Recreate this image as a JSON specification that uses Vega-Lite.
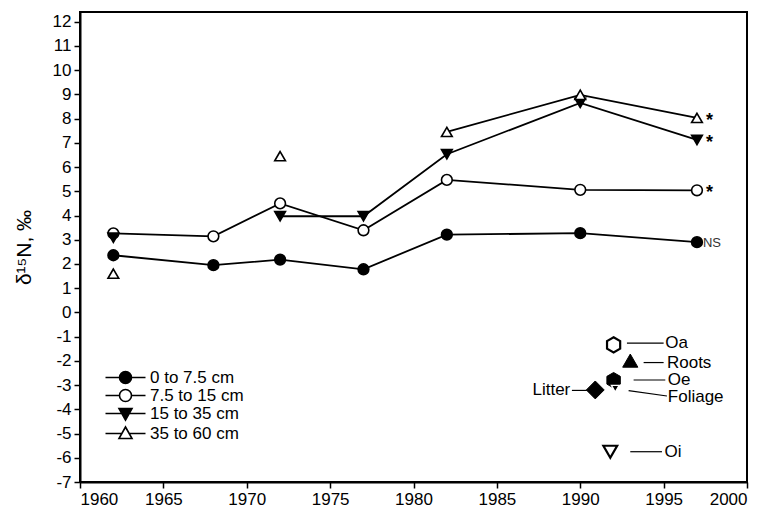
{
  "$schema": "https://vega.github.io/schema/vega-lite/v6.json",
  "width": 667,
  "height": 470,
  "autosize": {"type": "none"},
  "padding": {"left": 80, "top": 12, "right": 21, "bottom": 29},
  "background": "white",
  "config": {
    "font": "Liberation Sans",
    "view": {"stroke": "black", "strokeWidth": 2},
    "axis": {"grid": false, "domainColor": "black", "domainWidth": 2, "tickColor": "black", "tickWidth": 1.5, "tickSize": 6, "labelFontSize": 17, "labelColor": "black", "labelFont": "Liberation Sans"}
  },
  "resolve": {"scale": {"shape": "independent", "fill": "independent"}},
  "datasets": {
    "depth": [
      {"series": "0 to 7.5 cm", "year": 1962, "d15N": 2.36},
      {"series": "0 to 7.5 cm", "year": 1968, "d15N": 1.95},
      {"series": "0 to 7.5 cm", "year": 1972, "d15N": 2.18},
      {"series": "0 to 7.5 cm", "year": 1977, "d15N": 1.78},
      {"series": "0 to 7.5 cm", "year": 1982, "d15N": 3.21},
      {"series": "0 to 7.5 cm", "year": 1990, "d15N": 3.27},
      {"series": "0 to 7.5 cm", "year": 1997, "d15N": 2.9},
      {"series": "7.5 to 15 cm", "year": 1962, "d15N": 3.26},
      {"series": "7.5 to 15 cm", "year": 1968, "d15N": 3.14},
      {"series": "7.5 to 15 cm", "year": 1972, "d15N": 4.5},
      {"series": "7.5 to 15 cm", "year": 1977, "d15N": 3.39},
      {"series": "7.5 to 15 cm", "year": 1982, "d15N": 5.47},
      {"series": "7.5 to 15 cm", "year": 1990, "d15N": 5.06},
      {"series": "7.5 to 15 cm", "year": 1997, "d15N": 5.04},
      {"series": "15 to 35 cm", "year": 1962, "d15N": 3.08},
      {"series": "15 to 35 cm", "year": 1972, "d15N": 3.97},
      {"series": "15 to 35 cm", "year": 1977, "d15N": 3.97},
      {"series": "15 to 35 cm", "year": 1982, "d15N": 6.53},
      {"series": "15 to 35 cm", "year": 1990, "d15N": 8.65},
      {"series": "15 to 35 cm", "year": 1997, "d15N": 7.12},
      {"series": "35 to 60 cm", "year": 1962, "d15N": 1.6},
      {"series": "35 to 60 cm", "year": 1972, "d15N": 6.45},
      {"series": "35 to 60 cm", "year": 1982, "d15N": 7.45},
      {"series": "35 to 60 cm", "year": 1990, "d15N": 8.98},
      {"series": "35 to 60 cm", "year": 1997, "d15N": 8.03}
    ],
    "sig": [
      {"year": 1997, "d15N": 8.03, "label": "*"},
      {"year": 1997, "d15N": 7.12, "label": "*"},
      {"year": 1997, "d15N": 5.04, "label": "*"}
    ],
    "ns": [
      {"year": 1997, "d15N": 2.85, "label": "NS"}
    ],
    "samples": [
      {"sample": "Oa", "year": 1992.0, "d15N": -1.34, "lx1": 1992.8, "lx2": 1995.0, "ly1": -1.27, "ly2": -1.27, "tx": 1995.1, "ty": -1.27},
      {"sample": "Roots", "year": 1993.0, "d15N": -1.99, "lx1": 1993.8, "lx2": 1995.0, "ly1": -2.07, "ly2": -2.07, "tx": 1995.2, "ty": -2.07},
      {"sample": "Oe", "year": 1992.0, "d15N": -2.8, "lx1": 1993.2, "lx2": 1995.1, "ly1": -2.79, "ly2": -2.79, "tx": 1995.25, "ty": -2.79},
      {"sample": "Foliage", "year": 1992.1, "d15N": -3.15, "lx1": 1992.9, "lx2": 1995.2, "ly1": -3.23, "ly2": -3.45, "tx": 1995.25, "ty": -3.5},
      {"sample": "Litter", "year": 1990.9, "d15N": -3.2, "lx1": 1989.5, "lx2": 1990.4, "ly1": -3.22, "ly2": -3.22, "tx": 1989.4, "ty": -3.22},
      {"sample": "Oi", "year": 1991.8, "d15N": -5.75, "lx1": 1993.0, "lx2": 1994.9, "ly1": -5.75, "ly2": -5.75, "tx": 1995.05, "ty": -5.75}
    ]
  },
  "encoding": {
    "x": {"field": "year", "type": "quantitative", "scale": {"domain": [1960, 2000], "nice": false, "zero": false},
      "axis": {"title": null, "values": [1960, 1965, 1970, 1975, 1980, 1985, 1990, 1995, 2000], "format": "d", "labelPadding": 3}},
    "y": {"field": "d15N", "type": "quantitative", "scale": {"domain": [-7, 12.4], "nice": false, "zero": false},
      "axis": {"title": "δ¹⁵N, ‰", "titleFontSize": 21, "titleFontWeight": "normal", "titleColor": "black", "titlePadding": 18,
        "values": [-7, -6, -5, -4, -3, -2, -1, 0, 1, 2, 3, 4, 5, 6, 7, 8, 9, 10, 11, 12], "labelExpr": "'' + datum.value", "labelPadding": 3}}
  },
  "layer": [
    {
      "data": {"name": "depth"},
      "transform": [{"filter": "!((datum.series === '15 to 35 cm' && datum.year === 1962) || (datum.series === '35 to 60 cm' && datum.year < 1980))"}],
      "mark": {"type": "line", "color": "black", "strokeWidth": 1.8},
      "encoding": {"detail": {"field": "series"}}
    },
    {
      "data": {"name": "samples"},
      "mark": {"type": "rule", "color": "black", "strokeWidth": 1.2},
      "encoding": {
        "x": {"field": "lx1", "type": "quantitative"},
        "x2": {"field": "lx2"},
        "y": {"field": "ly1", "type": "quantitative"},
        "y2": {"field": "ly2"}
      }
    },
    {
      "data": {"name": "depth"},
      "mark": {"type": "point", "stroke": "black", "strokeWidth": 1.6, "size": 115, "opacity": 1},
      "encoding": {
        "shape": {"field": "series", "type": "nominal", "legend": null,
          "scale": {"domain": ["0 to 7.5 cm", "7.5 to 15 cm", "15 to 35 cm", "35 to 60 cm"], "range": ["circle", "circle", "triangle-down", "triangle-up"]}},
        "fill": {"field": "series", "type": "nominal", "legend": null,
          "scale": {"domain": ["0 to 7.5 cm", "7.5 to 15 cm", "15 to 35 cm", "35 to 60 cm"], "range": ["black", "white", "black", "white"]}}
      }
    },
    {
      "data": {"name": "depth"},
      "transform": [{"filter": "false"}],
      "mark": {"type": "point", "stroke": "black", "strokeWidth": 1.6, "opacity": 1},
      "encoding": {
        "shape": {"field": "series", "type": "nominal",
          "scale": {"domain": ["0 to 7.5 cm", "7.5 to 15 cm", "15 to 35 cm", "35 to 60 cm"],
            "range": ["M-4,0L-1.2,0M1.2,0L4,0M1.2,0A1.2,1.2,0,1,1,-1.2,0A1.2,1.2,0,1,1,1.2,0Z", "M-4,0L-1.2,0M1.2,0L4,0M1.2,0A1.2,1.2,0,1,1,-1.2,0A1.2,1.2,0,1,1,1.2,0Z", "M-4,0L4,0M-1.3,-1L1.3,-1L0,1.3Z", "M-4,0L-0.74,0M0.74,0L4,0M-1.3,1L1.3,1L0,-1.3Z"]},
          "legend": {"title": null, "orient": "none", "legendX": 37, "legendY": 357, "labelFontSize": 17, "labelColor": "black", "symbolSize": 100, "symbolStrokeWidth": 1.6, "rowPadding": -1, "labelOffset": 16,
            "encode": {"symbols": {"stroke": {"value": "black"}, "strokeWidth": {"value": 1.6}, "strokeOpacity": {"value": 1}}}}},
        "fill": {"field": "series", "type": "nominal",
          "scale": {"domain": ["0 to 7.5 cm", "7.5 to 15 cm", "15 to 35 cm", "35 to 60 cm"], "range": ["black", "white", "black", "white"]}}
      }
    },
    {
      "data": {"name": "samples"},
      "transform": [{"filter": "datum.sample === 'Oa'"}],
      "mark": {"type": "point", "shape": "M0,-1L0.866,-0.5L0.866,0.5L0,1L-0.866,0.5L-0.866,-0.5Z", "size": 230, "fill": "white", "stroke": "black", "strokeWidth": 2.2, "opacity": 1}
    },
    {
      "data": {"name": "samples"},
      "transform": [{"filter": "datum.sample === 'Roots'"}],
      "mark": {"type": "point", "shape": "triangle-up", "size": 230, "fill": "black", "stroke": "black", "strokeWidth": 1, "opacity": 1}
    },
    {
      "data": {"name": "samples"},
      "transform": [{"filter": "datum.sample === 'Litter'"}],
      "mark": {"type": "point", "shape": "diamond", "size": 320, "fill": "black", "stroke": "black", "strokeWidth": 1, "opacity": 1}
    },
    {
      "data": {"name": "samples"},
      "transform": [{"filter": "datum.sample === 'Oe'"}],
      "mark": {"type": "point", "shape": "M0,-1L0.866,-0.5L0.866,0.5L0,1L-0.866,0.5L-0.866,-0.5Z", "size": 240, "fill": "black", "stroke": "black", "strokeWidth": 1, "opacity": 1}
    },
    {
      "data": {"name": "samples"},
      "transform": [{"filter": "datum.sample === 'Foliage'"}],
      "mark": {"type": "point", "shape": "triangle-down", "size": 60, "fill": "black", "stroke": "white", "strokeWidth": 1.3, "opacity": 1}
    },
    {
      "data": {"name": "samples"},
      "transform": [{"filter": "datum.sample === 'Oi'"}],
      "mark": {"type": "point", "shape": "triangle-down", "size": 190, "fill": "white", "stroke": "black", "strokeWidth": 2.2, "opacity": 1}
    },
    {
      "data": {"name": "samples"},
      "transform": [{"filter": "datum.sample !== 'Litter'"}],
      "mark": {"type": "text", "align": "left", "baseline": "middle", "fontSize": 17, "color": "black"},
      "encoding": {
        "x": {"field": "tx", "type": "quantitative"},
        "y": {"field": "ty", "type": "quantitative"},
        "text": {"field": "sample"}
      }
    },
    {
      "data": {"name": "samples"},
      "transform": [{"filter": "datum.sample === 'Litter'"}],
      "mark": {"type": "text", "align": "right", "baseline": "middle", "fontSize": 17, "color": "black"},
      "encoding": {
        "x": {"field": "tx", "type": "quantitative"},
        "y": {"field": "ty", "type": "quantitative"},
        "text": {"field": "sample"}
      }
    },
    {
      "data": {"name": "sig"},
      "mark": {"type": "text", "align": "left", "baseline": "middle", "dx": 9, "dy": 3, "fontSize": 18, "fontWeight": "bold", "color": "black"},
      "encoding": {"text": {"field": "label"}}
    },
    {
      "data": {"name": "ns"},
      "mark": {"type": "text", "align": "left", "baseline": "middle", "dx": 6, "fontSize": 13, "color": "#333333"},
      "encoding": {"text": {"field": "label"}}
    }
  ]
}
